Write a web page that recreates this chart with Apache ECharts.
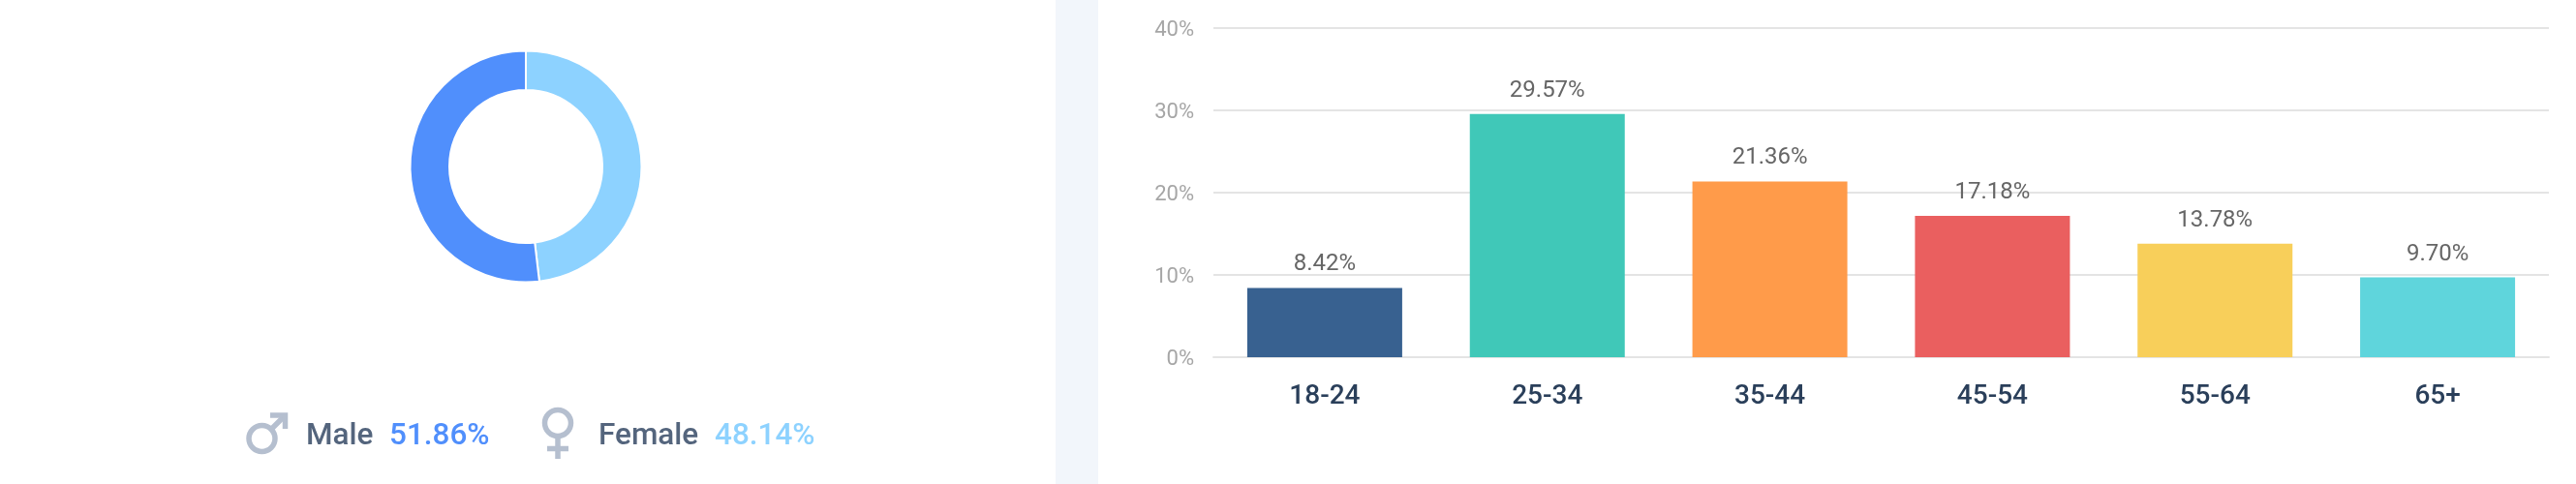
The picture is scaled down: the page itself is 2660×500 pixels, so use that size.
<!DOCTYPE html>
<html>
<head>
<meta charset="utf-8">
<style>
  html, body { margin: 0; padding: 0; background: #fff; }
  #chart { width: 2660px; height: 500px; }
</style>
<script src="https://cdn.jsdelivr.net/npm/echarts@6/dist/echarts.min.js"></script>
</head>
<body>
<div id="chart"></div>
<script>
var genderNames = ['Female', 'Male']
var genderValues = [48.14, 51.86]
var genderColors = ['#8dd2ff', '#508ffc']

var ageCategories = ['18-24', '25-34', '35-44', '45-54', '55-64', '65+']
var ageValues = [8.42, 29.57, 21.36, 17.18, 13.78, 9.70]
var ageColors = ['#386190', '#40c8b8', '#ff9b4a', '#ea5f5f', '#f8cf5a', '#5fd5dc']

var font = 'Roboto'
var iconColor = '#b5bfcf'
var iconStroke = { stroke: iconColor, lineWidth: 5.5, fill: 'none', lineJoin: 'miter', lineCap: 'butt' }

function legendText(x, text, color) {
  return {
    type: 'text',
    x: x,
    y: 467,
    style: { text: text, fill: color, font: '500 31.5px ' + font, textVerticalAlign: 'bottom' }
  }
}

var chart = echarts.init(document.getElementById('chart'))

chart.setOption({
  animation: false,
  backgroundColor: '#fff',
  grid: { left: 1253, right: 28, top: 29, bottom: 131 },
  xAxis: {
    type: 'category',
    data: ageCategories,
    axisTick: { show: false },
    axisLine: { lineStyle: { color: '#e4e4e4', width: 2 } },
    axisLabel: { color: '#2a3f5a', fontFamily: font, fontSize: 28, fontWeight: 500, margin: 27 }
  },
  yAxis: {
    type: 'value',
    min: 0,
    max: 40,
    interval: 10,
    axisLine: { show: false },
    axisTick: { show: false },
    axisLabel: { color: '#a6a6a6', fontFamily: font, fontSize: 22, margin: 20, formatter: '{value}%', verticalAlign: 'top', lineHeight: 4 },
    splitLine: { lineStyle: { color: '#e4e4e4', width: 2 } }
  },
  series: [
    {
      type: 'bar',
      barWidth: 160,
      data: ageValues.map(function (v, i) {
        return { value: v, itemStyle: { color: ageColors[i] } }
      }),
      label: {
        show: true,
        position: 'top',
        distance: 12,
        color: '#666666',
        fontFamily: font,
        fontSize: 24,
        formatter: function (p) { return p.value.toFixed(2) + '%' }
      }
    },
    {
      type: 'pie',
      center: [543, 172],
      radius: [79, 119.5],
      startAngle: 90,
      label: { show: false },
      labelLine: { show: false },
      itemStyle: { borderColor: '#fff', borderWidth: 2 },
      data: genderNames.map(function (n, i) {
        return { name: n, value: genderValues[i], itemStyle: { color: genderColors[i] } }
      })
    }
  ],
  graphic: [
    // page divider
    { type: 'rect', z: -1, shape: { x: 1090, y: 0, width: 44, height: 500 }, style: { fill: '#f2f6fb' } },
    // male icon
    { type: 'circle', shape: { cx: 270.5, cy: 453, r: 13.5 }, style: iconStroke },
    { type: 'line', shape: { x1: 280, y1: 443.5, x2: 294, y2: 429.5 }, style: iconStroke },
    { type: 'polyline', shape: { points: [[279, 429], [294.5, 429], [294.5, 443]] }, style: iconStroke },
    // female icon
    { type: 'circle', shape: { cx: 576, cy: 437, r: 13.5 }, style: iconStroke },
    { type: 'line', shape: { x1: 576, y1: 451, x2: 576, y2: 474 }, style: iconStroke },
    { type: 'line', shape: { x1: 565, y1: 463.5, x2: 587, y2: 463.5 }, style: iconStroke },
    // legend text
    legendText(316, genderNames[1], '#54657d'),
    legendText(402, genderValues[1].toFixed(2) + '%', genderColors[1]),
    legendText(618, genderNames[0], '#54657d'),
    legendText(738, genderValues[0].toFixed(2) + '%', genderColors[0])
  ]
})
</script>
</body>
</html>
